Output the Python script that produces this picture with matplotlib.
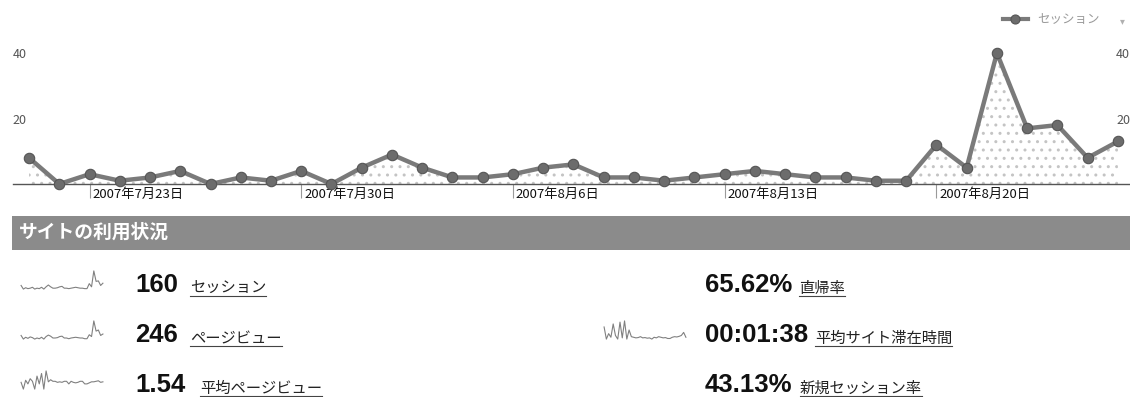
import pandas as pd
import matplotlib
matplotlib.use("Agg")
from matplotlib import pyplot as plt
from matplotlib.lines import Line2D
from matplotlib.patches import Rectangle

plt.rcParams["font.family"] = ["Noto Sans CJK JP", "DejaVu Sans"]
plt.rcParams["hatch.linewidth"] = 1.0

# daily data, 2007-07-21 .. 2007-08-26
dates = pd.date_range("2007-07-21", "2007-08-26", freq="D")
sessions = [8, 0, 3, 1, 2, 4, 0, 2, 1, 4, 0, 5, 9, 5, 2, 2, 3, 5, 6, 2,
            2, 1, 2, 3, 4, 3, 2, 2, 1, 1, 12, 5, 40, 17, 18, 8, 13]
pageviews = [10, 0, 5, 2, 6, 4, 0, 3, 1, 5, 0, 7, 11, 8, 3, 3, 4, 7, 8, 3,
             3, 1, 3, 4, 5, 4, 3, 3, 1, 1, 12, 7, 50, 22, 25, 10, 14]
pages_per_visit = [1.3, 0, 1.7, 1.0, 2.0, 1.5, 0, 2.5, 1.0, 3.0, 0, 3.5, 1.4, 1.8,
                   1.5, 1.5, 1.3, 1.4, 1.3, 1.5, 1.5, 1.0, 1.5, 1.3, 1.2, 1.3,
                   1.5, 1.5, 1.0, 1.0, 1.2, 1.4, 1.4, 1.5, 1.6, 1.3, 1.4]
time_on_site = [200, 0, 90, 30, 250, 60, 0, 280, 20, 300, 0, 150, 40, 30, 20,
                25, 40, 20, 25, 15, 20, 0, 30, 20, 40, 30, 20, 25, 10, 10, 30,
                40, 35, 45, 60, 110, 30]

# summary block: (value, label, sparkline series or None)
left_metrics = [("160", "セッション", sessions),
                ("246", "ページビュー", pageviews),
                ("1.54", "平均ページビュー", pages_per_visit)]
right_metrics = [("65.62%", "直帰率", None),
                 ("00:01:38", "平均サイト滞在時間", time_on_site),
                 ("43.13%", "新規セッション率", None)]

W, H = 1130, 397
fig = plt.figure(figsize=(W / 100, H / 100), dpi=100)


def box(x, y, w, h):
    # pixel box (top-left origin) -> figure fraction rect
    return [x / W, 1 - (y + h) / H, w / W, h / H]


# ---- main chart ----
ax = fig.add_axes(box(13, 40, 1117, 144))
ax.fill_between(dates, sessions, 0, facecolor="none", edgecolor="#c4c4c4",
                hatch="..", linewidth=0)
ax.plot(dates, sessions, color="#7a7a7a", lw=3.2, marker="o", ms=7.5,
        mfc="#6c6c6c", mec="#555555", mew=0.8, clip_on=False, zorder=3)

day = pd.Timedelta(days=1)
ax.set_xlim(dates[0] - 0.53 * day, dates[-1] + 0.4 * day)
ax.set_ylim(0, 44)

mondays = dates[dates.dayofweek == 0]
ax.set_xticks(mondays, [f"{d.year}年{d.month}月{d.day}日" for d in mondays])
ax.tick_params(axis="x", length=10, width=0.8, color="#9a9a9a", pad=-7,
               labelsize=9.5, labelcolor="#111111")
for lab in ax.get_xticklabels():
    lab.set_horizontalalignment("left")
    lab.set_transform(lab.get_transform() +
                      matplotlib.transforms.ScaledTranslation(3 / 100, 0, fig.dpi_scale_trans))

ax.set_yticks([20, 40])
ax.tick_params(axis="y", length=0, pad=-10, labelsize=9, labelcolor="#555555",
               labelright=True)

for s in ["top", "left", "right"]:
    ax.spines[s].set_visible(False)
ax.spines["bottom"].set_color("#555555")
ax.spines["bottom"].set_linewidth(1)

handle = Line2D([], [], color="#7a7a7a", lw=3, marker="o", ms=6.5,
                mfc="#6c6c6c", mec="#555555", mew=0.8)
fig.legend([handle], ["セッション"], loc="center right",
           bbox_to_anchor=(1100 / W, 1 - 20 / H), frameon=False,
           fontsize=9, labelcolor="#9a9a9a", handlelength=2.0,
           handletextpad=0.8, borderpad=0, borderaxespad=0)
fig.text(1122 / W, 1 - 21 / H, "▾", color="#b0b0b0", fontsize=7,
         family="DejaVu Sans", ha="center", va="center")

# ---- header bar ----
fig.patches.append(Rectangle((12 / W, 1 - 250 / H), (W - 12) / W, 34 / H,
                             transform=fig.transFigure, facecolor="#8b8b8b",
                             edgecolor="none"))
fig.text(19 / W, 1 - 232 / H, "サイトの利用状況", color="white",
         fontsize=13.5, fontweight="bold", va="center")

# ---- summary rows ----
row_base = [292, 342, 392]
labels = []


def draw_block(metrics, spark_x, num_x, label_x):
    for (val, name, series), yb, lx in zip(metrics, row_base, label_x):
        if series is not None:
            sa = fig.add_axes(box(spark_x, yb - 22, 90, 20))
            sa.plot(series, color="#808080", lw=0.8)
            sa.axis("off")
        fig.text(num_x / W, 1 - yb / H, val, family="Liberation Sans",
                 fontweight="bold", fontsize=18.5, color="#111111", va="baseline")
        labels.append(fig.text(lx / W, 1 - (yb + 1) / H, name, fontsize=11,
                               color="#222222", va="baseline"))


draw_block(left_metrics, 17, 135, [190, 190, 200])
draw_block(right_metrics, 600, 705, [799, 815, 800])

# underline the metric names
fig.canvas.draw()
r = fig.canvas.get_renderer()
for t in labels:
    bb = t.get_window_extent(r)
    y = (bb.y0 + 1) / fig.bbox.height
    fig.add_artist(Line2D([bb.x0 / fig.bbox.width, bb.x1 / fig.bbox.width], [y, y],
                          transform=fig.transFigure, color="#444444", lw=0.8))

fig.savefig("out.png", dpi=100)
